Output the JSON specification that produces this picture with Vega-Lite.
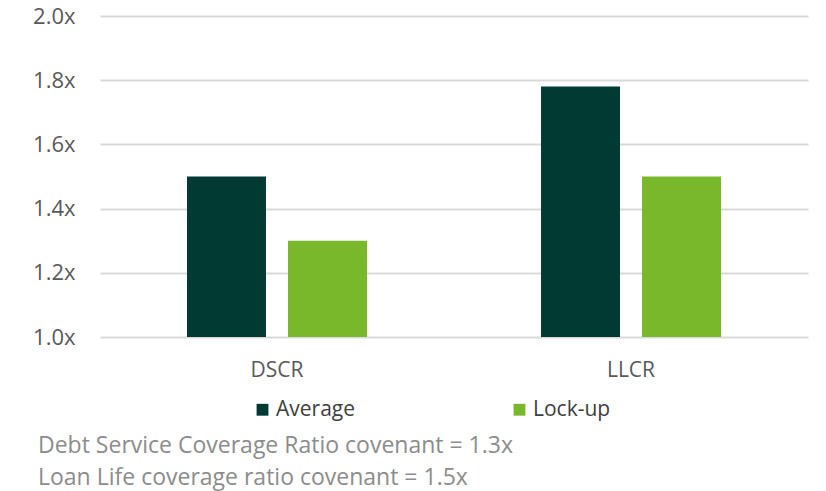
{
  "$schema": "https://vega.github.io/schema/vega-lite/v6.json",
  "width": 708,
  "height": 321,
  "autosize": {"type": "none"},
  "padding": {"left": 100, "top": 16, "right": 18, "bottom": 154},
  "background": "white",
  "config": {"view": {"stroke": null}, "font": "Open Sans"},
  "title": {
    "text": ["Debt Service Coverage Ratio covenant = 1.3x", "Loan Life coverage ratio covenant = 1.5x"],
    "orient": "bottom",
    "anchor": "start",
    "frame": "group",
    "dx": -62,
    "offset": 15,
    "font": "Open Sans",
    "fontSize": 23,
    "fontWeight": "normal",
    "color": "#8c8c8c",
    "lineHeight": 32
  },
  "data": {
    "values": [
      {"metric": "DSCR", "series": "Average", "value": 1.5},
      {"metric": "DSCR", "series": "Lock-up", "value": 1.3},
      {"metric": "LLCR", "series": "Average", "value": 1.78},
      {"metric": "LLCR", "series": "Lock-up", "value": 1.5}
    ]
  },
  "mark": {"type": "bar", "clip": true},
  "encoding": {
    "x": {
      "field": "metric",
      "type": "nominal",
      "scale": {"paddingInner": 0, "paddingOuter": 0},
      "axis": {
        "title": null,
        "labelAngle": 0,
        "domain": false,
        "ticks": false,
        "labelPadding": 22,
        "labelFont": "Open Sans",
        "labelFontSize": 21,
        "labelColor": "#595959"
      }
    },
    "xOffset": {
      "field": "series",
      "type": "nominal",
      "scale": {"paddingInner": 0.218, "paddingOuter": 0.861}
    },
    "y": {
      "field": "value",
      "type": "quantitative",
      "scale": {"domain": [1.0, 2.0], "zero": false, "nice": false},
      "axis": {
        "title": null,
        "values": [1.0, 1.2, 1.4, 1.6, 1.8, 2.0],
        "labelExpr": "format(datum.value, '.1f') + 'x'",
        "domain": false,
        "ticks": false,
        "labelPadding": 25,
        "labelFont": "Open Sans",
        "labelFontSize": 22,
        "labelColor": "#595959",
        "grid": true,
        "gridColor": "#d9d9d9",
        "gridWidth": 2
      }
    },
    "color": {
      "field": "series",
      "type": "nominal",
      "scale": {"domain": ["Average", "Lock-up"], "range": ["#003a32", "#78b82a"]},
      "legend": {
        "title": null,
        "orient": "none",
        "direction": "horizontal",
        "legendX": 152,
        "legendY": 383,
        "symbolType": "square",
        "symbolSize": 140,
        "symbolStrokeWidth": 0,
        "symbolOpacity": 1,
        "labelFont": "Open Sans",
        "labelFontSize": 21,
        "labelColor": "#404040",
        "labelOffset": 3,
        "columnPadding": 153
      }
    }
  }
}
